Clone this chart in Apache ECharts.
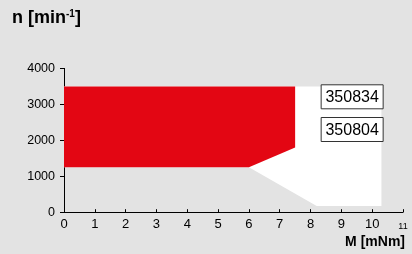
<!DOCTYPE html>
<html><head><meta charset="utf-8">
<script src="https://cdn.jsdelivr.net/npm/echarts@6/dist/echarts.min.js"></script>
<style>html,body{margin:0;padding:0;background:#e3e3e3}#c{width:412px;height:254px}</style>
</head><body><div id="c"></div>
<script>
const xTicks = [0,1,2,3,4,5,6,7,8,9,10,11];
const yTicks = [0,1000,2000,3000,4000];
// operating ranges (M [mNm], n [min^-1])
const whiteM = [0, 10.3, 10.3, 8.2, 6, 0];
const whiteN = [3500, 3500, 170, 170, 1250, 1250];
const redM = [0, 7.5, 7.5, 6, 0];
const redN = [3500, 3500, 1800, 1250, 1250];
const labels = ['350834', '350804'];
const labelM = [9.35, 9.35];
const labelN = [3210, 2300];

const FONT = 'Liberation Sans, Arial, sans-serif';
function poly(xs, ys, color) {
  return {
    type: 'custom', silent: true,
    data: [0],
    renderItem: function (params, api) {
      const pts = xs.map((x, i) => api.coord([x, ys[i]]));
      return { type: 'polygon', shape: { points: pts }, style: { fill: color } };
    }
  };
}
const chart = echarts.init(document.getElementById('c'), null, { renderer: 'canvas' });
chart.setOption({
  backgroundColor: '#e3e3e3',
  animation: false,
  grid: { left: 64, right: 9, top: 68.4, bottom: 41.8 },
  xAxis: {
    type: 'value', min: 0, max: 11, interval: 1,
    axisLine: { lineStyle: { color: '#000', width: 1 } },
    axisTick: { inside: true, length: 3, lineStyle: { color: '#000' } },
    splitLine: { show: false },
    axisLabel: {
      color: '#000', fontFamily: FONT, fontSize: 13, margin: 6,
      formatter: v => v === 11 ? '{s|11}' : String(v),
      rich: { s: { fontSize: 9, fontFamily: FONT, color: '#000', padding: [4, 0, 0, 0] } }
    }
  },
  yAxis: {
    type: 'value', min: 0, max: 4000, interval: 1000,
    axisLine: { show: true, lineStyle: { color: '#000', width: 1 } },
    axisTick: { show: true, length: 4, lineStyle: { color: '#000' } },
    splitLine: { show: false },
    axisLabel: { color: '#000', fontFamily: FONT, fontSize: 12.5, margin: 9, formatter: v => String(v) }
  },
  graphic: [
    { type: 'text', left: 12, top: 9, style: {
        text: '{b|n [min}{sup|-1}{b|]}',
        rich: {
          b: { fontFamily: FONT, fontSize: 18, fontWeight: 'bold', fill: '#000' },
          sup: { fontFamily: FONT, fontSize: 10, fontWeight: 'bold', fill: '#000', padding: [0, 0, 9, 0] }
        } } },
    { type: 'text', right: 7, top: 235, style: { text: 'M [mNm]', font: 'bold 14px ' + FONT, fill: '#000' } },
    { type: 'text', right: 0, top: -14, style: { text: 'M [mNm]', font: 'bold 14px ' + FONT, fill: '#000' } }
  ],
  series: [
    poly(whiteM, whiteN, '#ffffff'),
    poly(redM, redN, '#e30613'),
    {
      type: 'custom', silent: true,
      data: labels.map((t, i) => [labelM[i], labelN[i], t]),
      renderItem: function (params, api) {
        const p = api.coord([api.value(0), api.value(1)]);
        const t = labels[params.dataIndex];
        return {
          type: 'group',
          children: [
            { type: 'rect', shape: { x: p[0] - 31, y: p[1] - 12, width: 62, height: 24 },
              style: { fill: '#fff', stroke: '#333', lineWidth: 1 } },
            { type: 'text', style: { x: p[0], y: p[1] + 1, text: t, align: 'center', verticalAlign: 'middle',
              font: '16px ' + FONT, fill: '#000' } }
          ]
        };
      }
    }
  ]
});
</script></body></html>
